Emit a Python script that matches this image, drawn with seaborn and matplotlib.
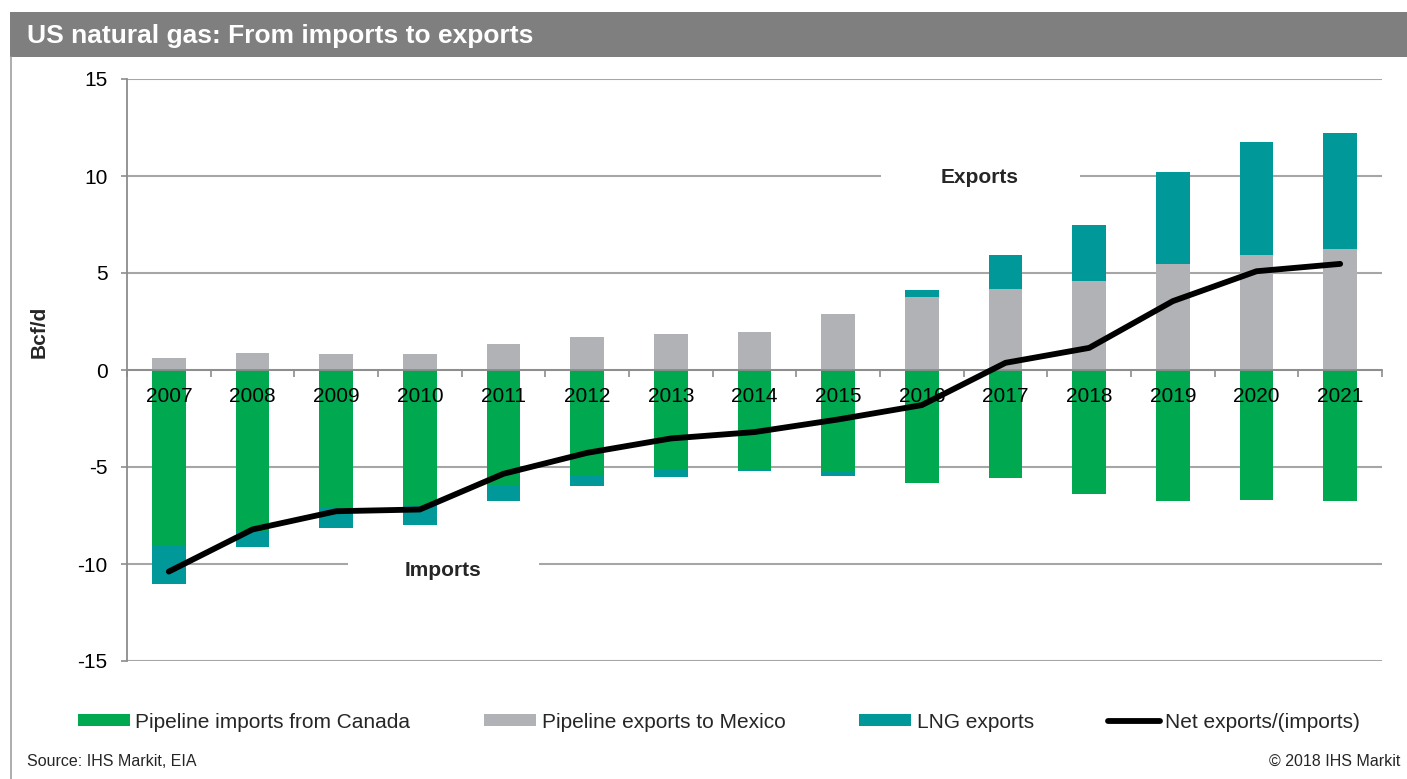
import numpy as np
import matplotlib
matplotlib.use("Agg")
import matplotlib.pyplot as plt
from matplotlib.patches import Patch, Rectangle
from matplotlib.lines import Line2D
from matplotlib.transforms import offset_copy
import seaborn as sns

# ---------------- data ----------------
years = ["2007", "2008", "2009", "2010", "2011", "2012", "2013", "2014",
         "2015", "2016", "2017", "2018", "2019", "2020", "2021"]
canada_imports = [-9.05, -8.29, -7.04, -6.95, -5.97, -5.45, -5.15, -5.08,
                  -5.28, -5.85, -5.58, -6.38, -6.74, -6.69, -6.74]
lng_imports = [-1.97, -0.84, -1.10, -1.05, -0.79, -0.54, -0.34, -0.12,
               -0.17, 0.0, 0.0, 0.0, 0.0, 0.0, 0.0]
mexico_exports = [0.63, 0.89, 0.85, 0.80, 1.35, 1.69, 1.88, 1.98,
                  2.88, 3.77, 4.20, 4.61, 5.44, 5.92, 6.26]
lng_exports = [0.0, 0.0, 0.0, 0.0, 0.0, 0.0, 0.0, 0.0,
               0.0, 0.33, 1.75, 2.89, 4.78, 5.81, 5.97]
net_exports = [-10.39, -8.22, -7.28, -7.19, -5.35, -4.27, -3.53, -3.20,
               -2.55, -1.81, 0.37, 1.14, 3.55, 5.09, 5.47]
y_ticks = [-15, -10, -5, 0, 5, 10, 15]

title = "US natural gas: From imports to exports"
legend_labels = ["Pipeline imports from Canada", "Pipeline exports to Mexico",
                 "LNG exports", "Net exports/(imports)"]

GREEN = "#00A84F"
GREY = "#B1B2B5"
TEAL = "#009898"
GRID = "#A6A6A6"

sns.set_theme(style="white")
plt.rcParams["font.family"] = ["Liberation Sans", "DejaVu Sans"]
plt.rcParams["axes.unicode_minus"] = False

W, H = 1407, 779
fig = plt.figure(figsize=(W / 100, H / 100), dpi=100)
ax = fig.add_axes([127 / W, 1 - 661 / H, (1382 - 127) / W, (661 - 79) / H])

pos_total = np.array(mexico_exports) + np.array(lng_exports)
neg_total = np.array(canada_imports) + np.array(lng_imports)

bar_kw = dict(width=0.4, saturation=1, linewidth=0, ax=ax, zorder=2)
sns.barplot(x=years, y=pos_total, color=TEAL, **bar_kw)
sns.barplot(x=years, y=mexico_exports, color=GREY, **bar_kw)
sns.barplot(x=years, y=neg_total, color=TEAL, **bar_kw)
sns.barplot(x=years, y=canada_imports, color=GREEN, **bar_kw)

sns.lineplot(x=np.arange(len(years)), y=net_exports, color="black",
             linewidth=4.2, ax=ax, zorder=4, solid_capstyle="round",
             legend=False)

ax.set_xlim(-0.5, len(years) - 0.5)
ax.set_ylim(-15, 15)
ax.set_yticks(y_ticks)
ax.set_yticklabels([str(v) for v in y_ticks])

ax.set_axisbelow(True)
ax.grid(axis="y", color=GRID, linewidth=1.5, zorder=0)
ax.grid(axis="x", visible=False)

# gaps in gridlines behind the annotations
ax.hlines(10, 8.51, 10.89, color="white", linewidth=3, zorder=1)
ax.hlines(-10, 2.14, 4.42, color="white", linewidth=3, zorder=1)

for s in ["top", "right"]:
    ax.spines[s].set_visible(False)
ax.spines["left"].set_color("#8C8C8C")
ax.spines["left"].set_linewidth(1.3)
ax.spines["bottom"].set_position(("data", 0))
ax.spines["bottom"].set_color("#8C8C8C")
ax.spines["bottom"].set_linewidth(1.3)
ax.spines["bottom"].set_zorder(3)

ax.tick_params(axis="y", which="major", length=4.5, width=1.2, color="#8C8C8C",
               direction="out", pad=9.5, labelsize=15, labelcolor="black", left=True)
ax.set_xticks(np.arange(len(years)))
ax.set_xticklabels([])
ax.set_xticks(np.arange(-0.5, len(years), 1), minor=True)
ax.tick_params(axis="x", which="major", length=0)
ax.tick_params(axis="x", which="minor", length=5, width=1.2, color="#8C8C8C",
               direction="out", bottom=True)
ax.set_xlabel("")
ax.set_ylabel("")

# category labels drawn just below the zero line, above the bars
lab_tr = offset_copy(ax.transData, fig=fig, x=0, y=-32.5, units="dots")
for i, yr in enumerate(years):
    ax.text(i, 0, yr, transform=lab_tr, ha="center", va="baseline",
            fontsize=15, color="black", zorder=3)

ax.text(9.69, 9.92, "Exports", ha="center", va="center", fontsize=15,
        fontweight="bold", zorder=5)
ax.text(3.275, -10.34, "Imports", ha="center", va="center", fontsize=15,
        fontweight="bold", zorder=5)

# title bar and frame
fig.patches.append(Rectangle((10 / W, 1 - 57.3 / H), 1 - 10 / W, 45.6 / H,
                             transform=fig.transFigure, facecolor="#7F7F7F",
                             edgecolor="none", zorder=0))
fig.lines.append(Line2D([10.5 / W, 10.5 / W], [0, 1 - 57 / H],
                        transform=fig.transFigure, color="#A0A0A0", linewidth=1.2))
fig.text(27 / W, 1 - 43 / H, title, color="white", fontsize=19,
         fontweight="bold", ha="left", va="baseline")

fig.text(39 / W, 1 - 332 / H, "Bcf/d", rotation=90, fontsize=15,
         fontweight="bold", ha="center", va="center")

handles = [Patch(facecolor=GREEN, edgecolor="none"),
           Patch(facecolor=GREY, edgecolor="none"),
           Patch(facecolor=TEAL, edgecolor="none"),
           Line2D([0], [0], color="black", linewidth=4.2, solid_capstyle="round")]
fig.legend(handles, legend_labels, loc="center left",
           bbox_to_anchor=(78 / W, 1 - 722 / H), ncol=4, frameon=False,
           fontsize=15, handlelength=2.5, handleheight=0.5,
           handletextpad=0.25, columnspacing=3.55, borderpad=0,
           borderaxespad=0)

fig.text(27 / W, 1 - 761 / H, "Source: IHS Markit, EIA", fontsize=11.5,
         ha="left", va="center")
fig.text(1400 / W, 1 - 761 / H, "\u00a9 2018 IHS Markit", fontsize=11.5,
         ha="right", va="center")

fig.savefig("out.png", dpi=100, facecolor="white")
